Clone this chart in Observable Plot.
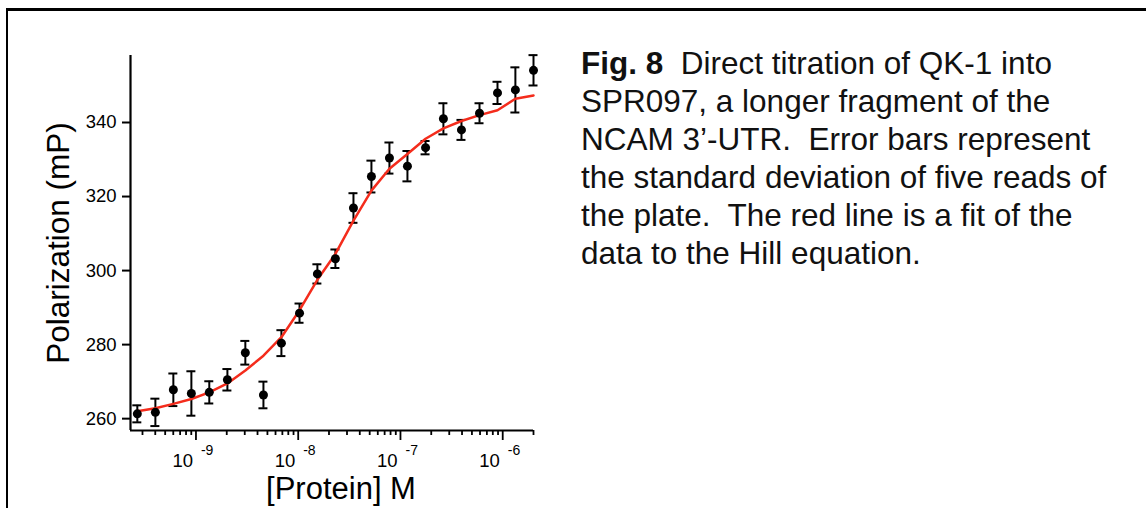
<!DOCTYPE html>
<html><head><meta charset="utf-8">
<script src="https://cdn.jsdelivr.net/npm/d3@7"></script>
<script src="https://cdn.jsdelivr.net/npm/@observablehq/plot@0.6"></script>
<style>
html,body{margin:0;padding:0;background:#fff;width:1146px;height:508px;overflow:hidden;font-family:"Liberation Sans",Arial,Helvetica,sans-serif;}
#frame{position:absolute;left:6px;top:8px;width:1140px;height:500px;border-top:3px solid #000;border-left:2px solid #000;box-sizing:border-box;}
#chart{position:absolute;left:0;top:0;}
#caption{position:absolute;left:581px;top:43.5px;font-size:31.5px;line-height:38px;color:#111;white-space:pre;}
#caption div{height:38px;}
</style></head><body>
<div id="frame"></div>
<div id="chart"></div>
<div id="caption"><div><b>Fig. 8</b><span>  Direct titration of QK-1 into</span></div><div>SPR097, a longer fragment of the</div><div>NCAM 3’-UTR.  Error bars represent</div><div>the standard deviation of five reads of</div><div>the plate.  The red line is a fit of the</div><div>data to the Hill equation.</div></div>
<script>
const concentration = [2.67e-10, 4.01e-10, 6.01e-10, 9.02e-10, 1.35e-9, 2.03e-9, 3.04e-9, 4.57e-9, 6.85e-9, 1.03e-8, 1.54e-8, 2.31e-8, 3.47e-8, 5.20e-8, 7.80e-8, 1.17e-7, 1.76e-7, 2.63e-7, 3.95e-7, 5.93e-7, 8.89e-7, 1.33e-6, 2.00e-6];
const polarization = [261.3, 261.7, 267.8, 266.8, 267.1, 270.5, 277.8, 266.4, 280.4, 288.5, 299.1, 303.2, 316.9, 325.4, 330.4, 328.2, 333.2, 341.0, 338.0, 342.5, 348.0, 348.8, 354.1];
const errorSD = [2.3, 3.7, 4.4, 6.0, 3.0, 2.9, 3.2, 3.6, 3.5, 2.6, 2.6, 2.5, 4.0, 4.3, 4.2, 4.1, 1.8, 4.2, 2.7, 2.7, 3.0, 6.1, 4.1];
const hillFit = [262.0, 262.8, 264.0, 265.3, 267.1, 269.5, 273.0, 277.0, 282.0, 289.3, 297.5, 304.5, 313.5, 321.6, 327.5, 331.5, 335.6, 338.4, 340.4, 342.0, 343.3, 346.4, 347.3];
const yTicks = [260, 280, 300, 320, 340];
const xMajorTicks = [1e-9, 1e-8, 1e-7, 1e-6];
const xMajorExponents = ["-9", "-8", "-7", "-6"];
const xMinorTicks = [3e-10, 4e-10, 5e-10, 6e-10, 7e-10, 8e-10, 9e-10,
  2e-9, 3e-9, 4e-9, 5e-9, 6e-9, 7e-9, 8e-9, 9e-9,
  2e-8, 3e-8, 4e-8, 5e-8, 6e-8, 7e-8, 8e-8, 9e-8,
  2e-7, 3e-7, 4e-7, 5e-7, 6e-7, 7e-7, 8e-7, 9e-7, 2e-6];
const xDomain = [2.29e-10, 2.0e-6];
const yDomain = [256.8, 358.1];

const data = concentration.map((c, i) => ({c, p: polarization[i], sd: errorSD[i], fit: hillFit[i]}));

const chart = Plot.plot({
  width: 560, height: 508,
  marginLeft: 130, marginRight: 27, marginTop: 55, marginBottom: 78,
  x: {type: "log", domain: xDomain},
  y: {domain: yDomain},
  style: {fontFamily: "'Liberation Sans', Arial, sans-serif", color: "#000", background: "transparent", overflow: "visible"},
  marks: [
    Plot.axisY({ticks: yTicks, tickSize: 8, tickPadding: 6, fontSize: 18.5, label: null, strokeWidth: 2}),
    Plot.axisX({ticks: xMinorTicks, tickSize: 5, tickFormat: () => "", label: null, strokeWidth: 1.8}),
    Plot.axisX({ticks: xMajorTicks, tickSize: 10, tickFormat: () => "", label: null, strokeWidth: 1.8}),
    Plot.text(xMajorTicks, {x: d => d, text: () => "10", frameAnchor: "bottom", lineAnchor: "middle", dy: 30.6, dx: -3, textAnchor: "end", fontSize: 18.5}),
    Plot.text(xMajorTicks, {x: d => d, text: (d, i) => xMajorExponents[i], frameAnchor: "bottom", lineAnchor: "middle", dy: 20.5, dx: 5, textAnchor: "start", fontSize: 14}),
    Plot.ruleX([xDomain[0]], {y1: yDomain[0], y2: yDomain[1], strokeWidth: 2.2}),
    Plot.ruleY([yDomain[0]], {strokeWidth: 2.2}),
    Plot.ruleX(data, {x: "c", y1: d => d.p - d.sd, y2: d => d.p + d.sd, strokeWidth: 2}),
    Plot.ruleY(data, {x1: "c", x2: "c", y: d => d.p + d.sd, insetLeft: -4.5, insetRight: -4.5, strokeWidth: 2}),
    Plot.ruleY(data, {x1: "c", x2: "c", y: d => d.p - d.sd, insetLeft: -4.5, insetRight: -4.5, strokeWidth: 2}),
    Plot.line(data, {x: "c", y: "fit", stroke: "#f42c1c", strokeWidth: 2.5}),
    Plot.dot(data, {x: "c", y: "p", r: 4.5, fill: "#000"}),
    Plot.text(["Polarization (mP)"], {frameAnchor: "left", textAnchor: "middle", lineAnchor: "middle", rotate: -90, dx: -72, fontSize: 31.5}),
    Plot.text(["[Protein] M"], {frameAnchor: "bottom", textAnchor: "middle", lineAnchor: "middle", dx: 9, dy: 59, fontSize: 31})
  ]
});
document.getElementById("chart").appendChild(chart);
</script>
</body></html>
